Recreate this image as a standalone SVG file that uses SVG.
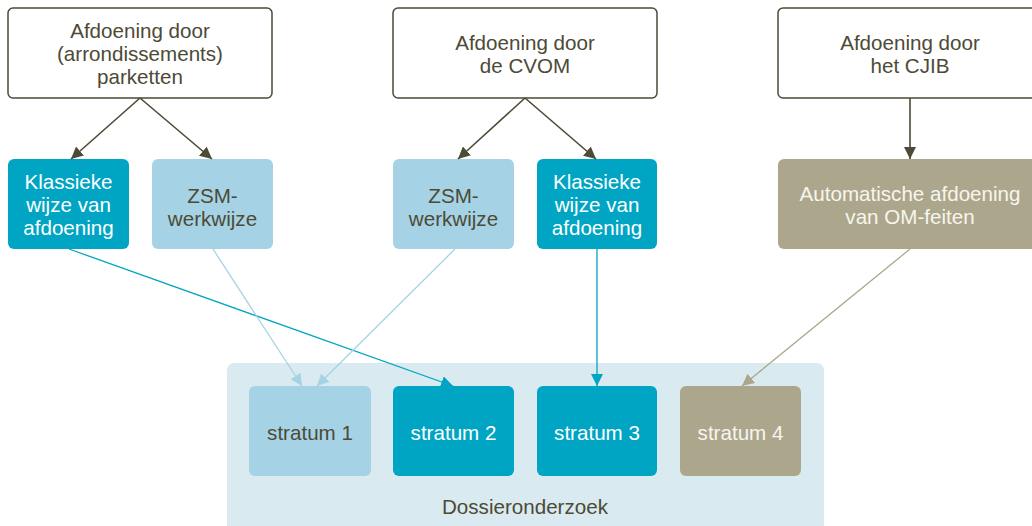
<svg xmlns="http://www.w3.org/2000/svg" width="1032" height="526" viewBox="0 0 1032 526">
<style>
text{font-family:"Liberation Sans",Arial,sans-serif;font-size:20.6px;text-anchor:middle}
.src{fill:#ffffff;stroke:#4d4a36;stroke-width:1.5}
.dark{fill:#4d4a36}
.light{fill:#ffffff}
.teal{fill:#00a5c4}
.lb{fill:#a5d3e5}
.ol{fill:#aca78c}
.c-dark{stroke:#4d4a36;stroke-width:1.6;fill:none}
.c-teal{stroke:#00a5c4;stroke-width:1.3;fill:none}
.c-lb{stroke:#a5d3e5;stroke-width:1.3;fill:none}
.c-ol{stroke:#aca78c;stroke-width:1.3;fill:none}
</style>
<defs>
<marker id="mDark" viewBox="0 0 12 12" refX="12" refY="6" markerWidth="12" markerHeight="12" markerUnits="userSpaceOnUse" orient="auto"><path d="M0,0 L12,6 L0,12 z" fill="#4d4a36"/></marker>
<marker id="mTeal" viewBox="0 0 12 12" refX="12" refY="6" markerWidth="12" markerHeight="12" markerUnits="userSpaceOnUse" orient="auto"><path d="M0,0 L12,6 L0,12 z" fill="#00a5c4"/></marker>
<marker id="mLb" viewBox="0 0 12 12" refX="12" refY="6" markerWidth="12" markerHeight="12" markerUnits="userSpaceOnUse" orient="auto"><path d="M0,0 L12,6 L0,12 z" fill="#a5d3e5"/></marker>
<marker id="mOl" viewBox="0 0 12 12" refX="12" refY="6" markerWidth="12" markerHeight="12" markerUnits="userSpaceOnUse" orient="auto"><path d="M0,0 L12,6 L0,12 z" fill="#aca78c"/></marker>
</defs>
<rect width="1032" height="526" fill="#ffffff"/>

<g id="dossieronderzoek">
<rect x="227" y="363" width="597" height="180" rx="7" fill="#d9eaf1"/>
<text x="525" y="514" class="dark">Dossieronderzoek</text>
</g>

<g id="parketten">
<rect class="src" x="8" y="8" width="264" height="90" rx="5"/>
<text class="dark" x="140" y="38">Afdoening door</text>
<text class="dark" x="140" y="61">(arrondissements)</text>
<text class="dark" x="140" y="84">parketten</text>
</g>
<g id="cvom">
<rect class="src" x="393" y="8" width="264" height="90" rx="5"/>
<text class="dark" x="525" y="50">Afdoening door</text>
<text class="dark" x="525" y="73">de CVOM</text>
</g>
<g id="cjib">
<rect class="src" x="778" y="8" width="264" height="90" rx="5"/>
<text class="dark" x="910" y="50">Afdoening door</text>
<text class="dark" x="910" y="73">het CJIB</text>
</g>

<g id="klassiek1">
<rect class="teal" x="8" y="159" width="121" height="90" rx="6"/>
<text class="light" x="68.5" y="189">Klassieke</text>
<text class="light" x="68.5" y="212">wijze van</text>
<text class="light" x="68.5" y="235">afdoening</text>
</g>
<g id="zsm1">
<rect class="lb" x="152" y="159" width="121" height="90" rx="6"/>
<text class="dark" x="212.5" y="203">ZSM-</text>
<text class="dark" x="212.5" y="226">werkwijze</text>
</g>
<g id="zsm2">
<rect class="lb" x="393" y="159" width="121" height="90" rx="6"/>
<text class="dark" x="453.5" y="203">ZSM-</text>
<text class="dark" x="453.5" y="226">werkwijze</text>
</g>
<g id="klassiek2">
<rect class="teal" x="537" y="159" width="120" height="90" rx="6"/>
<text class="light" x="597" y="189">Klassieke</text>
<text class="light" x="597" y="212">wijze van</text>
<text class="light" x="597" y="235">afdoening</text>
</g>
<g id="automatisch">
<rect class="ol" x="778" y="159" width="264" height="90" rx="6"/>
<text x="910" y="201" fill="#f7f5ee">Automatische afdoening</text>
<text x="910" y="224" fill="#f7f5ee">van OM-feiten</text>
</g>

<g id="stratum1">
<rect class="lb" x="249" y="386" width="122" height="90" rx="6"/>
<text class="dark" x="310" y="440">stratum 1</text>
</g>
<g id="stratum2">
<rect class="teal" x="393" y="386" width="121" height="90" rx="6"/>
<text class="light" x="453.5" y="440">stratum 2</text>
</g>
<g id="stratum3">
<rect class="teal" x="537" y="386" width="120" height="90" rx="6"/>
<text class="light" x="597" y="440">stratum 3</text>
</g>
<g id="stratum4">
<rect class="ol" x="680" y="386" width="121" height="90" rx="6"/>
<text x="740.5" y="440" fill="#f7f5ee">stratum 4</text>
</g>

<g id="connectors">
<line class="c-dark" x1="140" y1="98" x2="71" y2="159" marker-end="url(#mDark)"/>
<line class="c-dark" x1="140" y1="98" x2="212" y2="159" marker-end="url(#mDark)"/>
<line class="c-dark" x1="525" y1="98" x2="458" y2="159" marker-end="url(#mDark)"/>
<line class="c-dark" x1="525" y1="98" x2="596" y2="159" marker-end="url(#mDark)"/>
<line class="c-dark" x1="910" y1="98" x2="910" y2="159" marker-end="url(#mDark)"/>
<line class="c-teal" x1="69" y1="249" x2="453" y2="386" marker-end="url(#mTeal)"/>
<line class="c-lb" x1="213" y1="249" x2="302" y2="386" marker-end="url(#mLb)"/>
<line class="c-lb" x1="455" y1="249" x2="317" y2="386" marker-end="url(#mLb)"/>
<line class="c-teal" x1="597" y1="249" x2="597" y2="386" marker-end="url(#mTeal)"/>
<line class="c-ol" x1="910" y1="249" x2="742" y2="386" marker-end="url(#mOl)"/>
</g>
</svg>
